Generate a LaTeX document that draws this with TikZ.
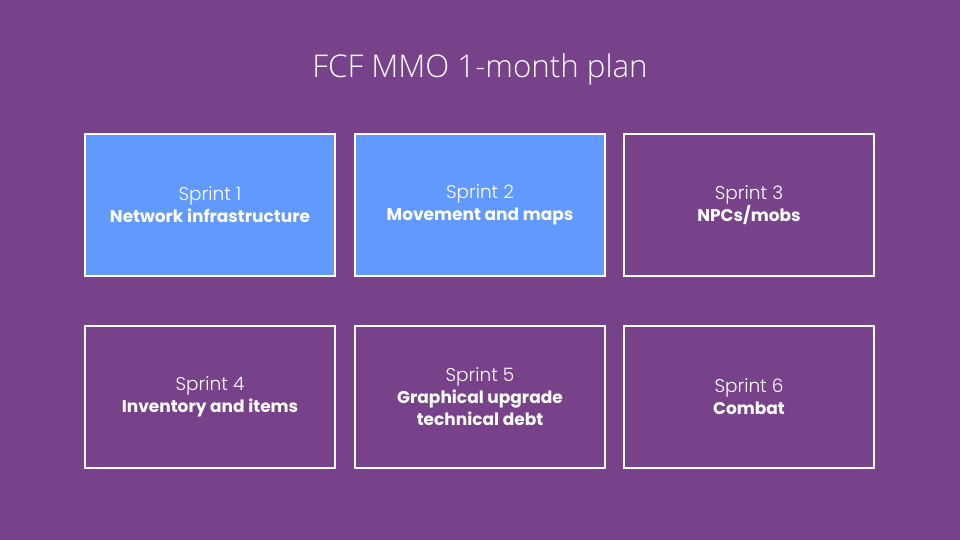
\documentclass[tikz,border=0pt]{standalone}
\usepackage{fontspec}
\setmainfont{Poppins}
\newfontfamily\lightfont{Poppins Light}
\newfontfamily\titlefont{Open Sans Light}
\definecolor{bgpurple}{RGB}{120,66,138}
\definecolor{sprintblue}{RGB}{97,153,255}
\tikzset{
  sprintbox/.style={draw=white, line width=1.5pt, minimum width=250pt, minimum height=142pt, inner sep=0pt, align=center, text=white, font=\fontsize{17}{22}\selectfont},
  donebox/.style={sprintbox, fill=sprintblue},
  todobox/.style={sprintbox, fill=bgpurple},
}
\newcommand{\sprintlabel}[1]{{\lightfont\fontsize{18.5}{22}\selectfont Sprint #1}}
\begin{document}
\begin{tikzpicture}[x=1pt,y=-1pt]
\fill[bgpurple] (0,0) rectangle (960,540);
\useasboundingbox (0,0) rectangle (960,540);
\node[text=white, font=\titlefont\fontsize{31.3}{36}\selectfont] (title) at (480,69) {FCF MMO 1-month plan};
\node[donebox] (s1) at (210,205) {\sprintlabel{1}\\\bfseries Network infrastructure};
\node[donebox] (s2) at (480,205) {\sprintlabel{2}\\\bfseries Movement and maps};
\node[todobox] (s3) at (749,205) {\sprintlabel{3}\\\bfseries NPCs/mobs};
\node[todobox] (s4) at (210,397) {\sprintlabel{4}\\\bfseries Inventory and items};
\node[todobox] (s5) at (480,397) {\sprintlabel{5}\\\bfseries Graphical upgrade\\\bfseries technical debt};
\node[todobox] (s6) at (749,397) {\sprintlabel{6}\\\bfseries Combat};
\end{tikzpicture}
\end{document}
